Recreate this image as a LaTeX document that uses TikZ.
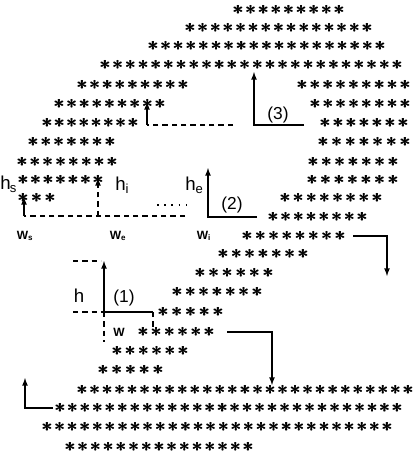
\documentclass[tikz,border=0pt]{standalone}
\usepackage{fontspec}
\setmainfont{Liberation Sans}
\usepackage{tikz}
\usetikzlibrary{positioning}

\newcommand{\bast}{\rlap{$\ast$}\hskip0.4pt$\ast$}

\tikzset{
  astk/.style={inner sep=0pt, font=\fontsize{13.5}{13.5}\selectfont\boldmath},
  hlbl/.style={inner sep=0pt, font=\fontsize{14}{14}\selectfont},
  wlbl/.style={inner sep=0pt, font=\fontsize{9}{9}\selectfont\bfseries},
  numlbl/.style={inner sep=0pt, font=\fontsize{13}{13}\selectfont},
  solid line/.style={line width=1pt},
  dash line/.style={line width=1pt, dash pattern=on 4pt off 3pt},
}

\begin{document}
\begin{tikzpicture}[x=0.75pt, y=-0.75pt]
  \useasboundingbox (0,0) rectangle (414,461);

  % rows of asterisks: name/y/first x/last x/count
  \foreach \r/\y/\xa/\xb/\n in {
      1/10/238/339/9, 2/28/190/367/15, 3/46/153/380/19, 4/65/105/397/24,
      5a/85/82/183/9, 5b/85/302/405/9, 6a/104/59/160/9, 6b/104/315/405/8,
      7a/123/47/133/8, 7b/123/325/403/7, 8a/142/33/110/7, 8b/142/323/405/7,
      9a/162/22/112/8, 9b/162/313/393/7, 10a/180/23/98/7, 10b/180/312/393/7,
      11a/198/23/50/3, 11b/198/285/377/8, 12/217/273/362/8, 13/236/247/340/8,
      14/254/223/303/7, 15/273/200/268/6, 16/292/177/257/7, 17/312/163/218/5,
      18/332/143/209/6, 19/351/117/183/6, 20/370/103/158/5, 21/390/82/408/27,
      22/408/60/397/28, 23/427/47/387/28, 24/447/70/248/15} {
    \foreach \i in {1,...,\n} {
      \pgfmathsetmacro\xx{\xa+(\xb-\xa)*(\i-1)/(\n-1)}
      \node[astk] (s\r-\i) at (\xx,\y) {\bast};
    }
  }

  % (3)
  \coordinate (c3s) at (304,125);
  \coordinate (c3k) at (254,125);
  \coordinate (c3t) at (254,72);
  \draw[solid line,-latex] (c3s) -- (c3k) -- (c3t);
  \node[numlbl] (n3) at (278,115) {(3)};
  \coordinate (d3s) at (233,125);
  \coordinate (d3k) at (147,125);
  \coordinate (d3t) at (147,102);
  \draw[dash line] (d3s) -- (d3k);
  \draw[solid line,-latex] (d3k) -- (d3t);

  % left dashed base with h labels
  \coordinate (bR) at (185,216);
  \coordinate (bL) at (24,216);
  \coordinate (bLt) at (24,197);
  \coordinate (bM) at (98,216);
  \coordinate (bMt) at (98,178);
  \draw[dash line] (bR) -- (bL);
  \draw[solid line,-latex] (bL) -- (bLt);
  \draw[dash line,-latex] (bM) -- (bMt);
  \coordinate (dotL) at (157,205);
  \coordinate (dotR) at (191,205);
  \draw[line width=1.2pt, dash pattern=on 1.2pt off 4.2pt] (dotL) -- (dotR);
  \node[hlbl, anchor=west] (hs) at (0,184) {h\textsubscript{\kern-0.5pt s}};
  \node[hlbl, anchor=west] (hi) at (115,185) {h\textsubscript{i}};
  \node[hlbl, anchor=west] (he) at (185,185) {h\textsubscript{e}};
  \node[wlbl] (ws) at (25,236) {W\textsubscript{s}};
  \node[wlbl] (we) at (118,236) {W\textsubscript{e}};
  \node[wlbl] (wi) at (204,236) {W\textsubscript{i}};

  % (2)
  \coordinate (c2s) at (257,217);
  \coordinate (c2k) at (208,217);
  \coordinate (c2t) at (208,168);
  \draw[solid line,-latex] (c2s) -- (c2k) -- (c2t);
  \node[numlbl] (n2) at (232,205) {(2)};

  % (1)
  \coordinate (c1s) at (153,312);
  \coordinate (c1k) at (104,312);
  \coordinate (c1t) at (104,261);
  \coordinate (c1b) at (104,342);
  \coordinate (c1l) at (73,312);
  \coordinate (c1u) at (73,261);
  \coordinate (c1v) at (153,328);
  \draw[solid line] (c1s) -- (c1k);
  \draw[solid line,-latex] (c1k) -- (c1t);
  \draw[dash line] (c1k) -- (c1b);
  \draw[dash line] (c1l) -- (c1k);
  \draw[dash line] (c1u) -- ++(28,0);
  \draw[dash line] (c1s) -- (c1v);
  \node[numlbl] (n1) at (124,298) {(1)};
  \node[hlbl] (h) at (79,296) {h};
  \node[wlbl] (w) at (119,332) {W};

  % turning arrows
  \coordinate (r1s) at (353,236);
  \coordinate (r1k) at (387,236);
  \coordinate (r1t) at (387,276);
  \draw[solid line,-latex] (r1s) -- (r1k) -- (r1t);
  \coordinate (r2s) at (227,332);
  \coordinate (r2k) at (272,332);
  \coordinate (r2t) at (272,385);
  \draw[solid line,-latex] (r2s) -- (r2k) -- (r2t);
  \coordinate (r3s) at (53,408);
  \coordinate (r3k) at (25,408);
  \coordinate (r3t) at (25,378);
  \draw[solid line,-latex] (r3s) -- (r3k) -- (r3t);
\end{tikzpicture}
\end{document}
